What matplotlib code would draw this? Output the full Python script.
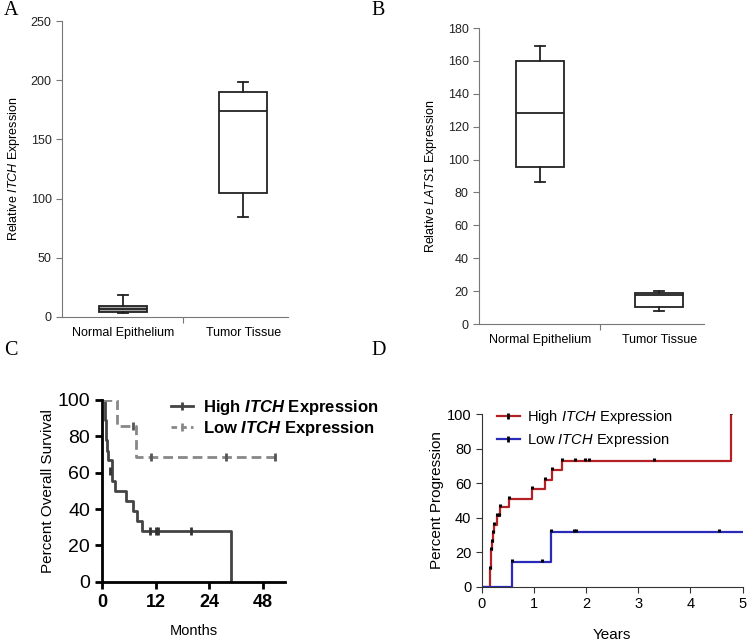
import matplotlib
matplotlib.use("Agg")
import matplotlib.pyplot as plt
from matplotlib.path import Path

plt.rcParams['font.family'] = ['Liberation Sans', 'DejaVu Sans']
plt.rcParams['mathtext.fontset'] = 'custom'
plt.rcParams['mathtext.rm'] = 'Liberation Sans'
plt.rcParams['mathtext.it'] = 'Liberation Sans:italic'
plt.rcParams['mathtext.bf'] = 'Liberation Sans:bold'
plt.rcParams['mathtext.bfit'] = 'Liberation Sans:bold:italic'

# ---- data ----
groups = ['Normal Epithelium', 'Tumor Tissue']
# box stats: whisker low, q1, median, q3, whisker high
itch_box = [[3, 4.5, 7, 9.5, 18.5], [84.7, 105, 174.3, 189.8, 198.7]]
lats1_box = [[86.2, 95.7, 128.1, 160, 169.1], [8.1, 10.5, 17.6, 19.0, 19.9]]

# C: overall survival (months, percent)
os_high_t = [0, 0.6, 0.75, 0.9, 1.0, 1.1, 1.25, 2.3, 2.9, 5.4, 6.9, 7.9, 8.9, 29.0]
os_high_s = [100, 94.4, 88.9, 83.3, 77.8, 72.2, 66.7, 55.6, 50.0, 44.4, 38.9, 33.3, 27.8, 0]
os_high_cens_t = [1.8, 10.8, 12.2, 12.6, 20.0]
os_high_cens_s = [61.1, 27.8, 27.8, 27.8, 27.8]
os_low_t = [0, 3.3, 7.7, 38.8]
os_low_s = [100, 85.7, 68.6, 68.6]
os_low_cens_t = [6.9, 10.9, 27.7, 38.8]
os_low_cens_s = [85.7, 68.6, 68.6, 68.6]
months_ticks = [0, 12, 24, 36]
months_labels = ['0', '12', '24', '48']

# D: progression (years, percent)
pr_high_t = [0, 0.15, 0.17, 0.20, 0.22, 0.23, 0.30, 0.36, 0.53, 0.96, 1.21, 1.34, 1.53, 4.78]
pr_high_p = [0, 10.5, 21, 26, 31, 36, 41, 46, 51, 56.5, 62, 67.5, 73, 100]
pr_high_mark_t = [0.15, 0.17, 0.20, 0.22, 0.23, 0.30, 0.33, 0.36, 0.53, 0.96, 1.21, 1.34,
                  1.53, 1.78, 1.98, 2.06, 3.31, 4.78]
pr_high_mark_p = [10.5, 21, 26, 31, 36, 41, 41, 46, 51, 56.5, 62, 67.5,
                  73, 73, 73, 73, 73, 100]
pr_low_t = [0, 0.58, 1.32, 5.0]
pr_low_p = [0, 14.3, 31.4, 31.4]
pr_low_mark_t = [0.58, 1.15, 1.32, 1.77, 1.80, 4.54]
pr_low_mark_p = [14.3, 14.3, 31.4, 31.4, 31.4, 31.4]

up_tick = Path([(0, 0), (0, 1)], [Path.MOVETO, Path.LINETO])

fig = plt.figure(figsize=(7.51, 6.41), dpi=100)


def box_panel(rect, data, fills, ylabel, ymax, ystep):
    ax = fig.add_axes(rect)
    stats = []
    for g, d in zip(groups, data):
        stats.append(dict(whislo=d[0], q1=d[1], med=d[2], q3=d[3], whishi=d[4], label=g))
    b = ax.bxp(stats, positions=[0, 1], widths=0.4, showfliers=False, patch_artist=True,
               boxprops=dict(linewidth=1.3, edgecolor='#222222'),
               medianprops=dict(color='#222222', linewidth=1.3),
               whiskerprops=dict(color='#222222', linewidth=1.3),
               capprops=dict(color='#222222', linewidth=1.3), capwidths=0.08)
    for patch, fc in zip(b['boxes'], fills):
        patch.set_facecolor(fc)
    ax.set_xlim(-0.51, 1.375)
    ax.set_ylim(0, ymax)
    ax.set_yticks(range(0, ymax + 1, ystep))
    ax.set_xticks([0.5])
    ax.set_xticklabels([''])
    for x, g in zip([0, 1], groups):
        ax.text(x, -0.035, g, transform=ax.get_xaxis_transform(), ha='center', va='top', fontsize=9)
    for s in ['top', 'right']:
        ax.spines[s].set_visible(False)
    for s in ['left', 'bottom']:
        ax.spines[s].set_color('#777777')
    ax.tick_params(colors='#777777', labelcolor='#222222', labelsize=9, length=4)
    ax.set_ylabel(ylabel, fontsize=9, labelpad=6)
    return ax


box_panel([0.0826, 0.5055, 0.301, 0.4617], itch_box, ['#a6a6a6', 'white'],
          r'Relative $\mathit{ITCH}$ Expression', 250, 50)
box_panel([0.6378, 0.4945, 0.2996, 0.4618], lats1_box, ['white', 'white'],
          r'Relative $\mathit{LATS1}$ Expression', 180, 20)

# ---- C ----
axc = fig.add_axes([0.1358, 0.0925, 0.2437, 0.2835])
axc.step(os_high_t, os_high_s, where='post', color='#444444', lw=2)
axc.step(os_low_t, os_low_s, where='post', color='#888888', lw=2, ls=(0, (3.5, 1.8)))
axc.plot(os_high_cens_t, os_high_cens_s, ls='none', marker='|', ms=6, mew=2, color='#333333')
axc.plot(os_low_cens_t, os_low_cens_s, ls='none', marker='|', ms=6, mew=2, color='#555555')
axc.set_xlim(0, 41)
axc.set_ylim(0, 100)
axc.set_xticks(months_ticks)
axc.set_xticklabels(months_labels, fontsize=13, fontweight='bold')
axc.set_yticks(range(0, 101, 20))
axc.tick_params(axis='y', labelsize=14, width=2, length=5)
axc.tick_params(axis='x', width=2, length=5)
for s in ['top', 'right']:
    axc.spines[s].set_visible(False)
for s in ['left', 'bottom']:
    axc.spines[s].set_linewidth(2)
axc.set_ylabel('Percent Overall Survival', fontsize=11, labelpad=2)
axc.set_xlabel('Months', fontsize=10.5, labelpad=10)
h1, = axc.plot([], [], color='#444444', lw=2, marker='|', ms=6, mew=2)
h2, = axc.plot([], [], color='#888888', lw=2, ls=(0, (2, 1.5)), marker='|', ms=6, mew=2)
axc.legend([h1, h2], [r'High $\mathbfit{ITCH}$ Expression', r'Low $\mathbfit{ITCH}$ Expression'],
           loc='upper left', bbox_to_anchor=(0.34, 1.05), frameon=False,
           prop=dict(size=12, weight='bold'), handlelength=1.3, handletextpad=0.6,
           labelspacing=0.15, borderaxespad=0)

# ---- D ----
red = '#b52025'
blue = '#2a2ab8'
axd = fig.add_axes([0.6414, 0.0847, 0.3475, 0.2694])
axd.step(pr_high_t, pr_high_p, where='post', color=red, lw=1.6)
axd.step(pr_low_t, pr_low_p, where='post', color=blue, lw=1.6)
axd.plot(pr_high_mark_t, pr_high_mark_p, ls='none', marker=up_tick, ms=5, mew=2.2, color='black')
axd.plot(pr_low_mark_t, pr_low_mark_p, ls='none', marker=up_tick, ms=5, mew=2.2, color='black')
axd.set_xlim(0, 5)
axd.set_ylim(0, 100)
axd.set_xticks(range(0, 6))
axd.set_yticks(range(0, 101, 20))
axd.tick_params(labelsize=10.5, length=4, color='#333333')
for s in ['top', 'right']:
    axd.spines[s].set_visible(False)
for s in ['left', 'bottom']:
    axd.spines[s].set_color('#333333')
axd.set_ylabel('Percent Progression', fontsize=11, labelpad=2)
axd.set_xlabel('Years', fontsize=11, labelpad=12)
h3, = axd.plot([], [], color=red, lw=1.6, marker='|', ms=4, mew=2, markeredgecolor='black')
h4, = axd.plot([], [], color=blue, lw=1.6, marker='|', ms=4, mew=2, markeredgecolor='black')
axd.legend([h3, h4], [r'High $\mathit{ITCH}$ Expression', r'Low $\mathit{ITCH}$ Expression'],
           loc='upper left', bbox_to_anchor=(0.035, 1.07), frameon=False, fontsize=10.5,
           handlelength=1.6, handletextpad=0.5, labelspacing=0.35, borderaxespad=0)

# panel letters
for x, y, s in [(0.005, 0.998, 'A'), (0.495, 0.998, 'B'), (0.005, 0.468, 'C'), (0.495, 0.468, 'D')]:
    fig.text(x, y, s, family=['Liberation Serif', 'DejaVu Serif'], fontsize=14.5, va='top', ha='left')

fig.savefig('out.png', dpi=100)
